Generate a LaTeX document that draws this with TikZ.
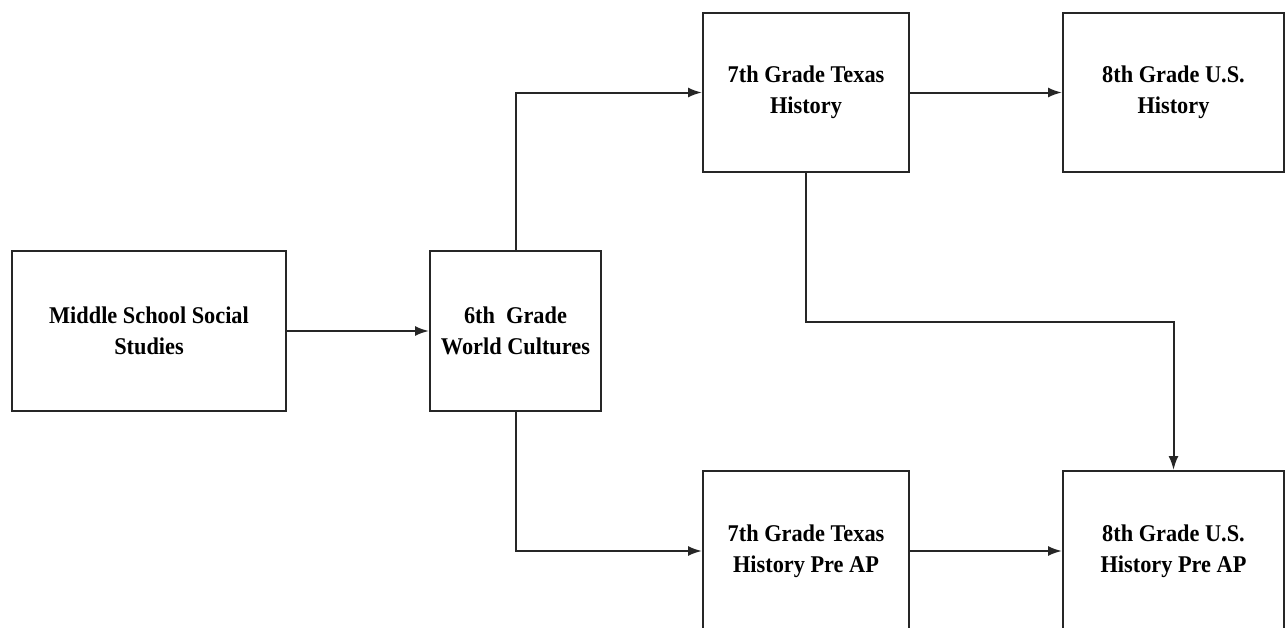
\documentclass[tikz,border=0pt]{standalone}
\usepackage{fontspec}
\setmainfont{Liberation Serif}[FakeStretch=0.93]
\usetikzlibrary{arrows.meta}
\begin{document}
\begin{tikzpicture}[x=1pt,y=-1pt,
  box/.style={draw=black!85,line width=2pt,rectangle,inner sep=0pt,align=center,
    font=\fontsize{24}{31}\selectfont\bfseries},
  conn/.style={draw=black!85,line width=2pt,-{Latex[length=14pt,width=10pt]}},
  plain/.style={draw=black!85,line width=2pt}]
\clip (0,0) rectangle (1285,627);
\fill[white] (0,0) rectangle (1285,627);
\node[box,minimum width=274pt,minimum height=160pt] (mss) at (149,331) {Middle School Social\\Studies};
\node[box,minimum width=171pt,minimum height=160pt] (g6) at (515.5,331) {6th\ \ Grade\\World Cultures};
\node[box,minimum width=206pt,minimum height=159pt] (t7) at (806,92.5) {7th Grade Texas\\History};
\node[box,minimum width=221pt,minimum height=159pt] (u8) at (1173.5,92.5) {8th Grade U.S.\\History};
\node[box,minimum width=206pt,minimum height=160pt] (t7p) at (806,551) {7th Grade Texas\\History Pre AP};
\node[box,minimum width=221pt,minimum height=160pt] (u8p) at (1173.5,551) {8th Grade U.S.\\History Pre AP};
\coordinate (mid) at (806,322);
\draw[conn] (mss.east) -- (g6.west);
\draw[conn] (g6.north) |- (t7.west);
\draw[conn] (g6.south) |- (t7p.west);
\draw[conn] (t7.east) -- (u8.west);
\draw[conn] (t7p.east) -- (u8p.west);
\draw[conn] (t7.south) -- (mid) -| (u8p.north);
\end{tikzpicture}
\end{document}
